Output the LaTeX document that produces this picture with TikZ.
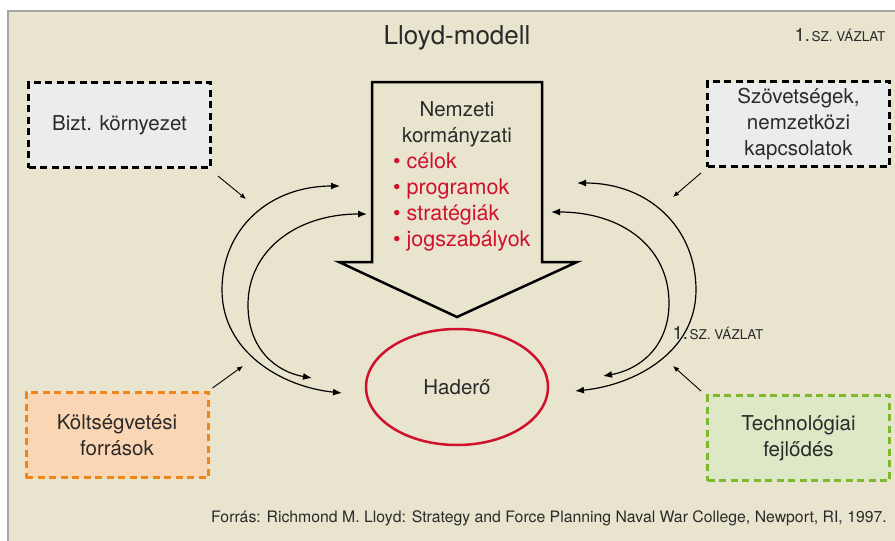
\documentclass[tikz,border=0pt]{standalone}
\usepackage{fontspec}
\setmainfont{TeX Gyre Heros}
\usetikzlibrary{shapes.geometric,arrows.meta}
\definecolor{bg}{HTML}{E9E4CE}
\definecolor{bordergray}{HTML}{A4A5A6}
\definecolor{txtcol}{HTML}{2A2A2A}
\definecolor{grayfill}{HTML}{EBECEC}
\definecolor{orangeline}{HTML}{EF8418}
\definecolor{orangefill}{HTML}{FBD6B4}
\definecolor{greenline}{HTML}{7DB82F}
\definecolor{greenfill}{HTML}{DDE8C6}
\definecolor{redline}{HTML}{D0112B}
\begin{document}
\begin{tikzpicture}[x=1pt,y=-1pt,
  txt/.style={text=txtcol, inner sep=0pt},
  boxnode/.style={rectangle, line width=3pt, dash pattern=on 7pt off 4.5pt,
    minimum width=182, minimum height=85, align=center, text=txtcol,
    font=\fontsize{20.5}{26}\selectfont},
  vazlat/.style={text=txtcol, inner sep=0pt},
  conn/.style={line width=1.2pt, {Latex[length=9pt,width=7pt]}-{Latex[length=9pt,width=7pt]}},
  feed/.style={line width=0.9pt, -{Latex[length=6pt,width=5pt]}},
  bigarrow/.style={line width=2.5pt, line join=miter, draw=black}
]
\useasboundingbox (0,0) rectangle (895,541);
\fill[white] (0,0) rectangle (895,541);
\fill[bg] (8,11) rectangle (895,541);
\draw[bordergray, line width=2pt] (8,541) -- (8,11) -- (895,11);

% title and labels
\node[txt, font=\fontsize{26}{30}\selectfont] (title) at (457,38) {Lloyd-modell};
\node[vazlat] (v1) at (840,35) {{\fontsize{18.5}{20}\selectfont 1.}\,{\fontsize{13.5}{15}\selectfont SZ. VÁZLAT}};

% boxes
\node[boxnode, draw=black, fill=grayfill] (bizt) at (119.5,125) {Bizt. környezet};
\node[boxnode, draw=black, fill=grayfill] (szov) at (798.5,124) {Szövetségek,\\nemzetközi\\kapcsolatok};
\node[boxnode, draw=orangeline, fill=orangefill] (kolt) at (117,435) {Költségvetési\\források};
\node[boxnode, draw=greenline, fill=greenfill] (tech) at (798.5,438) {Technológiai\\fejlődés};

% big arrow
\draw[bigarrow] (372,82) -- (542,82) -- (542,262) -- (577,262) -- (457,317) -- (339,262) -- (372,262) -- cycle;
\node[txt, align=center, font=\fontsize{20.5}{26}\selectfont] (govthead) at (457,124) {Nemzeti\\kormányzati};
\node[txt, anchor=west, align=left, text=redline, font=\fontsize{21.5}{26}\selectfont] (govtlist) at (393,202)
  {\textbullet\ célok\\\textbullet\ programok\\\textbullet\ stratégiák\\\textbullet\ jogszabályok};

% ellipse
\node[ellipse, draw=redline, line width=2.5pt, minimum width=182, minimum height=116,
  text=txtcol, font=\fontsize{20.5}{26}\selectfont] (had) at (457,387) {Haderő};

% curve end points
\coordinate (lot) at (340,186);
\coordinate (lom) at (222,290);
\coordinate (lob) at (342,393);
\coordinate (lit) at (367,214);
\coordinate (lim) at (248,305);
\coordinate (lib) at (312,378);
\coordinate (rot) at (577,183);
\coordinate (rom) at (696,290);
\coordinate (rob) at (575,391);
\coordinate (rit) at (551,212);
\coordinate (rim) at (669,303);
\coordinate (rib) at (603,376);

\draw[conn] (lot) .. controls +(-70,0) and +(0,-62) .. (lom) .. controls +(0,62) and +(-60,-6) .. (lob);
\draw[conn] (lit) .. controls +(-70,0) and +(0,-55) .. (lim) .. controls +(0,45) and +(-35,-6) .. (lib);
\draw[conn] (rot) .. controls +(72,0) and +(0,-62) .. (rom) .. controls +(0,62) and +(60,-6) .. (rob);
\draw[conn] (rit) .. controls +(72,0) and +(0,-55) .. (rim) .. controls +(0,45) and +(35,-6) .. (rib);

\node[vazlat] (v2) at (718,333) {{\fontsize{18.5}{20}\selectfont 1.}\,{\fontsize{13.5}{15}\selectfont SZ. VÁZLAT}};

% feeding arrows
\coordinate (f1) at (246,199);
\coordinate (f2) at (673,197);
\coordinate (f3) at (243,366);
\coordinate (f4) at (673,366);
\draw[feed] ([shift={(6,7)}]bizt.south east) -- (f1);
\draw[feed] ([shift={(-5,5)}]szov.south west) -- (f2);
\draw[feed] ([shift={(3,-3)}]kolt.north east) -- (f3);
\draw[feed] ([shift={(-5,-3)}]tech.north west) -- (f4);

% source
\node[txt, anchor=east, font=\fontsize{15.8}{18}\selectfont] (src) at (887,518)
  {Forrás: Richmond M. Lloyd: Strategy and Force Planning Naval War College, Newport, RI, 1997.};
\end{tikzpicture}
\end{document}
